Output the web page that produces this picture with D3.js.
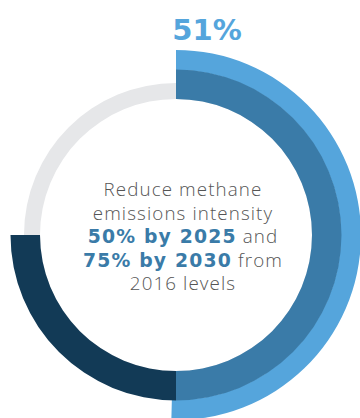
<!DOCTYPE html>
<html>
<head>
<meta charset="utf-8">
<script src="https://cdn.jsdelivr.net/npm/d3@7"></script>
<style>
  body { margin: 0; background: #fff; }
  svg { display: block; }
</style>
</head>
<body>
<svg id="chart" width="360" height="418"></svg>
<script>
// data
var headline = "51%";
var segNames = ["progress", "2025 target", "2030 target", "remaining"];
var segStart = [0, 0, 0.5, 0.75];
var segEnd = [0.504, 0.5, 0.75, 1];
var captionLines = [
  [["Reduce methane", 0]],
  [["emissions intensity", 0]],
  [["50% by 2025", 1], [" and", 0]],
  [["75% by 2030", 1], [" from", 0]],
  [["2016 levels", 0]]
];

// dimensions
var svg = d3.select("svg#chart"),
    width = +svg.attr("width"),
    height = +svg.attr("height");
var cx = 176, cy = 235;

var angle = d3.scaleLinear().domain([0, 1]).range([0, 2 * Math.PI]);
var color = d3.scaleOrdinal().domain(segNames)
    .range(["#55a5dc", "#3a7ba8", "#123a56", "#e6e7e9"]);
// ring per segment: outer band for progress, main band, thin track
var inner = d3.scaleOrdinal().domain(segNames).range([165, 136, 136, 136]);
var outer = d3.scaleOrdinal().domain(segNames).range([185, 165.5, 165.5, 152]);

var g = svg.append("g").attr("transform", "translate(" + cx + "," + cy + ")");

// gray track under everything
g.append("path")
  .attr("d", d3.arc().innerRadius(136).outerRadius(152).startAngle(0).endAngle(2 * Math.PI)())
  .attr("fill", color("remaining"));

var arc = d3.arc()
  .innerRadius(function(d) { return inner(d); })
  .outerRadius(function(d) { return outer(d); })
  .startAngle(function(d) { return angle(segStart[segNames.indexOf(d)]); })
  .endAngle(function(d) { return angle(segEnd[segNames.indexOf(d)]); });

g.selectAll(".seg")
  .data(segNames.slice(0, 3))
  .enter().append("path")
  .attr("class", "seg")
  .attr("d", arc)
  .attr("fill", function(d) { return color(d); });

// headline
svg.append("text")
  .attr("x", 207)
  .attr("y", 40)
  .attr("text-anchor", "middle")
  .style("font-family", "'DejaVu Sans', sans-serif")
  .style("font-weight", "bold")
  .style("font-size", "29px")
  .style("fill", "#55a5dc")
  .text(headline);

// caption
var cap = svg.append("text")
  .attr("text-anchor", "middle")
  .style("font-size", "18.8px");

captionLines.forEach(function(line, i) {
  var t = cap.append("tspan").attr("x", 183).attr("y", 196 + i * 23.6);
  line.forEach(function(p) {
    t.append("tspan")
      .text(p[0])
      .style("font-family", p[1] ? "'DejaVu Sans', sans-serif" : "'Open Sans', sans-serif")
      .style("font-weight", p[1] ? "bold" : "300")
      .style("letter-spacing", p[1] ? "1.2px" : "1.1px")
      .style("fill", p[1] ? "#3a7ba8" : "#555555");
  });
});
</script>
</body>
</html>
